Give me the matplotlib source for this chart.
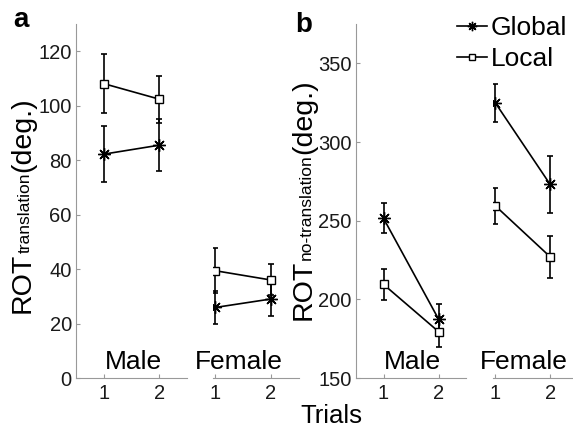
import matplotlib
matplotlib.use("Agg")
import matplotlib.pyplot as plt

plt.rcParams['font.family'] = ['Liberation Sans', 'DejaVu Sans']

trials = [1, 2]
trial_labels = ['1', '2']
groups = ['Male', 'Female']
series = ['Global', 'Local']

# Panel a: ROT translation (deg.)
a_male_global = [82.2, 85.5]
a_male_global_err = [10.3, 9.5]
a_male_local = [108.1, 102.4]
a_male_local_err = [10.7, 8.6]
a_female_global = [25.9, 29.0]
a_female_global_err = [6.0, 6.1]
a_female_local = [39.4, 36.0]
a_female_local_err = [8.2, 5.7]

# Panel b: ROT no-translation (deg.)
b_male_global = [251.5, 187.5]
b_male_global_err = [9.5, 9.5]
b_male_local = [209.5, 179.5]
b_male_local_err = [10.0, 9.5]
b_female_global = [325.0, 273.0]
b_female_global_err = [12.0, 18.0]
b_female_local = [259.5, 227.0]
b_female_local_err = [11.5, 13.3]

a_yticks = [0, 20, 40, 60, 80, 100, 120]
b_yticks = [150, 200, 250, 300, 350]

W, H = 573, 430
fig = plt.figure(figsize=(W / 100, H / 100), dpi=100)

GRAY = '#999999'
TXT = '#1a1a1a'
AST = (8, 2, 0)


def px_axes(left, right_w, bottom_px, top_px):
    return [left / W, (H - bottom_px) / H, right_w / W, (bottom_px - top_px) / H]


def style(ax, show_y, ylim, yticks):
    ax.set_ylim(*ylim)
    ax.set_xticks(trials)
    ax.set_xticklabels(trial_labels)
    for s in ['top', 'right']:
        ax.spines[s].set_visible(False)
    ax.spines['bottom'].set_color(GRAY)
    ax.spines['left'].set_color(GRAY)
    ax.patch.set_alpha(0)
    ax.tick_params(axis='x', direction='in', length=3, color=GRAY,
                   labelsize=14.5, labelcolor=TXT, pad=4)
    if show_y:
        ax.set_yticks(yticks)
        ax.tick_params(axis='y', direction='in', length=3, color=GRAY,
                       labelsize=14.5, labelcolor=TXT, pad=3)
    else:
        ax.spines['left'].set_visible(False)
        ax.set_yticks([])


def draw(ax, g, ge, l, le):
    ax.errorbar(trials, g, yerr=ge, fmt='none', ecolor='black',
                elinewidth=1.2, capsize=2.5, capthick=1.2)
    ax.errorbar(trials, l, yerr=le, fmt='none', ecolor='black',
                elinewidth=1.2, capsize=2.5, capthick=1.2)
    hg, = ax.plot(trials, g, color='black', lw=1.2, marker=AST,
                  markersize=9, markeredgewidth=1.0, label=series[0])
    hl, = ax.plot(trials, l, color='black', lw=1.2, marker='s',
                  markersize=6, markerfacecolor='white',
                  markeredgecolor='black', markeredgewidth=1.0,
                  label=series[1])
    return hg, hl


ax_am = fig.add_axes(px_axes(76, 111, 378, 24))
ax_am.set_xlim(0.5, 2.5)
ax_af = fig.add_axes(px_axes(213, 85.5, 378, 24))
ax_af.set_xlim(0.96, 2.5)
ax_bm = fig.add_axes(px_axes(356, 110, 378, 24))
ax_bm.set_xlim(0.5, 2.5)
ax_bf = fig.add_axes(px_axes(493, 84.7, 378, 24))
ax_bf.set_xlim(0.96, 2.5)

draw(ax_am, a_male_global, a_male_global_err, a_male_local, a_male_local_err)
draw(ax_af, a_female_global, a_female_global_err, a_female_local, a_female_local_err)
hg, hl = draw(ax_bm, b_male_global, b_male_global_err, b_male_local, b_male_local_err)
draw(ax_bf, b_female_global, b_female_global_err, b_female_local, b_female_local_err)

style(ax_am, True, (0, 130), a_yticks)
style(ax_af, False, (0, 130), a_yticks)
style(ax_bm, True, (150, 375), b_yticks)
style(ax_bf, False, (150, 375), b_yticks)

# group labels
for ax, xc, name in [(ax_am, 1.53, groups[0]), (ax_af, 1.42, groups[1]),
                     (ax_bm, 1.53, groups[0]), (ax_bf, 1.52, groups[1])]:
    ax.text(xc, 0.025, name, transform=ax.get_xaxis_transform(),
            ha='center', va='baseline', fontsize=19, color='black')

# panel letters
fig.text(13 / W, 1 - 27 / H, 'a', fontsize=20, fontweight='bold',
         ha='left', va='baseline')
fig.text(295 / W, 1 - 32 / H, 'b', fontsize=20, fontweight='bold',
         ha='left', va='baseline')

# x label
fig.text(331 / W, 1 - 423 / H, 'Trials', fontsize=18.5, ha='center',
         va='baseline')

# composite rotated y labels
renderer = fig.canvas.get_renderer()


def ylabel(xb, yb, parts):
    y = yb
    for txt, fs in parts:
        t = fig.text(xb / W, 1 - y / H, txt, fontsize=fs, rotation=90,
                     rotation_mode='anchor', ha='left', va='baseline')
        bb = t.get_window_extent(renderer)
        y -= bb.height


ylabel(30, 313, [('ROT', 20.5), ('translation', 12.5), ('(deg.)', 20.5)])
ylabel(311, 320, [('ROT', 20.5), ('no-translation', 12.5), ('(deg.)', 20.5)])

# legend
fig.legend(handles=[hg, hl], labels=series, loc='upper left',
           bbox_to_anchor=(457 / W, 1 - 16 / H), frameon=False,
           fontsize=19, handlelength=1.15, handletextpad=0.12,
           labelspacing=0.28, borderpad=0, borderaxespad=0,
           markerscale=0.75, numpoints=1)

fig.savefig('out.png', dpi=100)
